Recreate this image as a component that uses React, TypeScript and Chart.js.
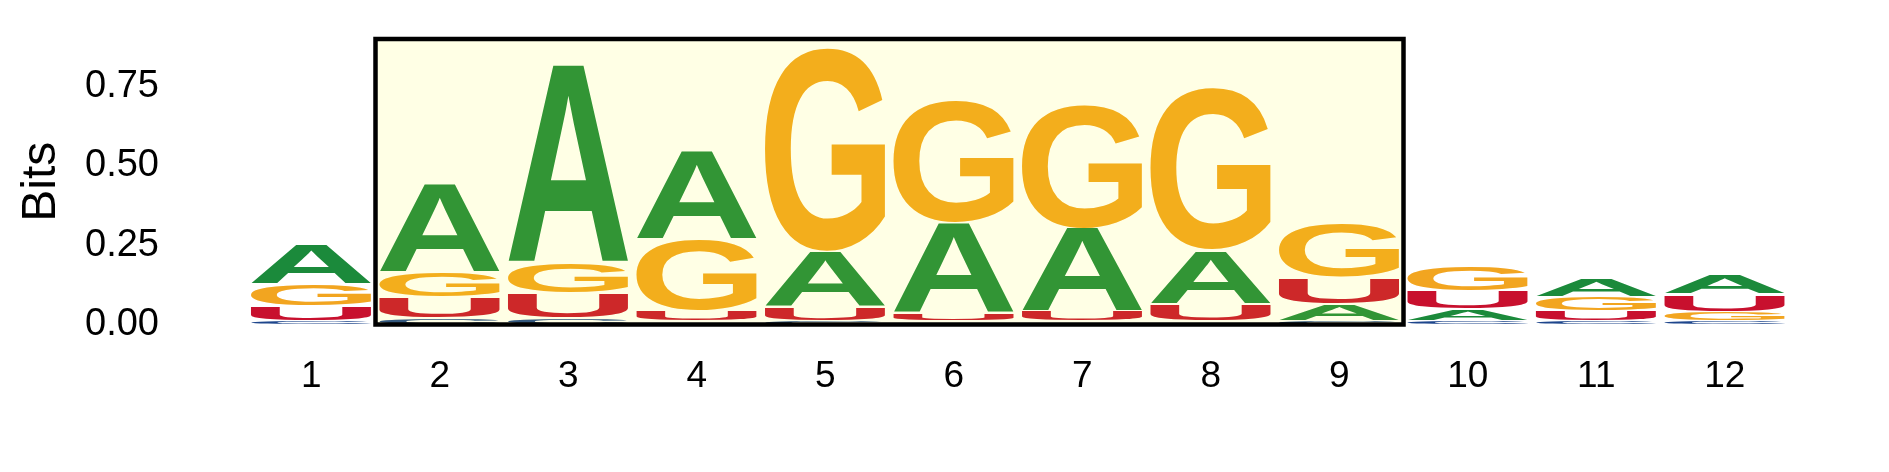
import { useEffect, useRef } from 'react';
import { Chart, registerables } from 'chart.js';

Chart.register(...registerables);

// Sequence positions and information content (bits) per base
const positions = ['1', '2', '3', '4', '5', '6', '7', '8', '9', '10', '11', '12'];
const bitsA = [0.125, 0.28, 0.626, 0.28, 0.175, 0.286, 0.263, 0.169, 0.053, 0.038, 0.058, 0.062];
const bitsC = [0.012, 0.021, 0.021, 0.01, 0.012, 0.01, 0.01, 0.01, 0.011, 0.011, 0.012, 0.011];
const bitsG = [0.071, 0.078, 0.094, 0.225, 0.643, 0.388, 0.389, 0.513, 0.17, 0.079, 0.044, 0.03];
const bitsU = [0.046, 0.065, 0.079, 0.033, 0.043, 0.026, 0.031, 0.055, 0.084, 0.057, 0.032, 0.054];
const yTicks = [0, 0.25, 0.5, 0.75];

// highlighted positions 2..9 (category indices)
const highlightStart = 1;
const highlightEnd = 8;

const letterColors: Record<string, string> = {
  A: 'rgb(27, 138, 59)',
  C: 'rgb(30, 70, 140)',
  G: 'rgb(242, 165, 32)',
  U: 'rgb(200, 16, 46)',
};

const FONT = '"Liberation Sans", Arial, sans-serif';

// per position, stack letters smallest at the bottom
const buildStacks = () => {
  const table: Record<string, number[]> = { A: bitsA, C: bitsC, G: bitsG, U: bitsU };
  const sorted = positions.map((_, i) =>
    Object.keys(table)
      .map((l) => ({ letter: l, value: table[l][i] }))
      .sort((a, b) => a.value - b.value)
  );
  return [0, 1, 2, 3].map((rank) => ({
    label: `rank ${rank}`,
    data: sorted.map((col) => col[rank].value),
    letters: sorted.map((col) => col[rank].letter),
    backgroundColor: 'rgba(0,0,0,0)',
    borderWidth: 0,
    barPercentage: 0.94,
    categoryPercentage: 1,
  }));
};

const glyphCache: Record<string, TextMetrics> = {};

const logoPlugin = {
  id: 'logoGlyphs',
  afterDatasetsDraw(chart: any) {
    const { ctx, chartArea, scales } = chart;
    ctx.save();
    ctx.font = `bold 200px ${FONT}`;
    ctx.textAlign = 'left';
    ctx.textBaseline = 'alphabetic';
    chart.data.datasets.forEach((ds: any, d: number) => {
      const meta = chart.getDatasetMeta(d);
      meta.data.forEach((bar: any, i: number) => {
        const ch = ds.letters[i];
        const { x, y, base, width } = bar.getProps(['x', 'y', 'base', 'width'], true);
        const h = Math.abs(base - y) - 1.5;
        if (h <= 0.5) return;
        if (!glyphCache[ch]) glyphCache[ch] = ctx.measureText(ch);
        const m = glyphCache[ch];
        const bw = m.actualBoundingBoxLeft + m.actualBoundingBoxRight;
        const bh = m.actualBoundingBoxAscent + m.actualBoundingBoxDescent;
        ctx.save();
        ctx.translate(x - width / 2, Math.min(y, base) + 0.75);
        ctx.scale(width / bw, h / bh);
        ctx.fillStyle = letterColors[ch];
        ctx.fillText(ch, m.actualBoundingBoxLeft, m.actualBoundingBoxAscent);
        ctx.restore();
      });
    });

    // highlighted range
    const xs = scales.x;
    const ys = scales.y;
    const half = (xs.getPixelForValue(1) - xs.getPixelForValue(0)) / 2;
    const left = xs.getPixelForValue(highlightStart) - half;
    const right = xs.getPixelForValue(highlightEnd) + half;
    const top = chartArea.top;
    const bottom = ys.getPixelForValue(0);
    ctx.fillStyle = 'rgba(255, 255, 0, 0.1)';
    ctx.fillRect(left, top, right - left, bottom - top);
    ctx.strokeStyle = '#000';
    ctx.lineWidth = 4.5;
    ctx.strokeRect(left, top, right - left, bottom - top);
    ctx.restore();
  },
};

const LogoChart = () => {
  const chartRef = useRef<HTMLCanvasElement | null>(null);
  const chartInstance = useRef<Chart | null>(null);

  useEffect(() => {
    if (!chartRef.current) return;
    const ctx = chartRef.current.getContext('2d');
    if (!ctx) return;

    if (chartInstance.current) {
      chartInstance.current.destroy();
    }

    chartInstance.current = new Chart(ctx, {
      type: 'bar',
      data: {
        labels: positions,
        datasets: buildStacks() as any,
      },
      options: {
        responsive: true,
        maintainAspectRatio: false,
        animation: false,
        layout: { padding: { top: 39, right: 100, bottom: 0, left: 0 } },
        plugins: {
          legend: { display: false },
          tooltip: { enabled: false },
        },
        scales: {
          x: {
            stacked: true,
            grid: { display: false, drawTicks: false },
            border: { display: false },
            ticks: {
              color: '#000',
              padding: 30,
              font: { family: FONT, size: 37 },
            },
            afterFit: (axis: any) => {
              axis.height = 147.5;
            },
          },
          y: {
            stacked: true,
            min: 0,
            max: 0.9,
            grid: { display: false, drawTicks: false },
            border: { display: false },
            afterBuildTicks: (axis: any) => {
              axis.ticks = yTicks.map((v) => ({ value: v }));
            },
            afterFit: (axis: any) => {
              axis.width = 247;
              // don't let the large label padding push the plot area down
              axis.paddingTop = 0;
              axis.paddingBottom = 0;
            },
            ticks: {
              color: '#000',
              padding: 88,
              font: { family: FONT, size: 38 },
              callback: (v: any) => Number(v).toFixed(2),
            },
            title: {
              display: true,
              text: 'Bits',
              color: '#000',
              padding: { top: 13, bottom: 0 },
              font: { family: FONT, size: 48 },
            },
          },
        },
      },
      plugins: [logoPlugin],
    });

    return () => {
      if (chartInstance.current) {
        chartInstance.current.destroy();
        chartInstance.current = null;
      }
    };
  }, []);

  return <canvas ref={chartRef} />;
};

export default function App() {
  return (
    <div style={{ position: 'absolute', left: 0, top: 0, width: 1889, height: 472, background: '#fff' }}>
      <LogoChart />
    </div>
  );
}
